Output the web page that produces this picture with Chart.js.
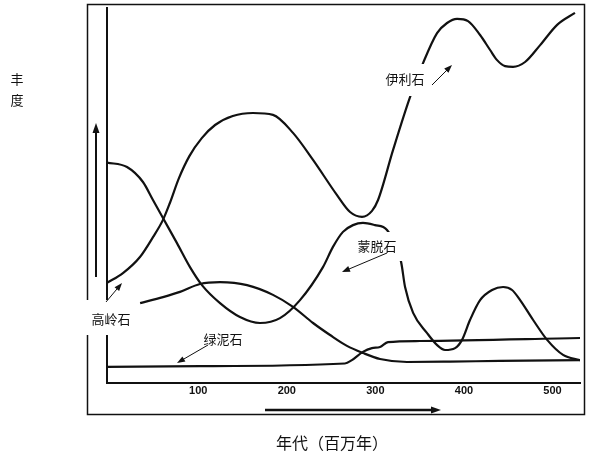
<!DOCTYPE html>
<html>
<head>
<meta charset="utf-8">
<script src="https://cdn.jsdelivr.net/npm/chart.js@4/dist/chart.umd.min.js"></script>
<style>
  html, body { margin: 0; background: #fff; }
  canvas { display: block; }
</style>
</head>
<body>
<canvas id="grafico" width="595" height="459"></canvas>
<script>
// eje de edades (millones de años)
const edadTicks = [100, 200, 300, 400, 500];

// 伊利石 - curva superior
const ilitaEdad = [-3, 15, 34.2, 48.9, 60.2, 68, 78, 90, 104, 119, 139, 161.8, 184.4, 207, 229.6, 256.7, 271.4, 284.9, 296.2, 303, 319.9, 339.2, 353.8, 369.6, 380.9, 392.2, 404.6, 418.2, 429.5, 437.4, 446.4, 455.4, 469, 486, 505.2, 525.3];
const ilitaAbund = [26.7, 29.3, 33.6, 38.9, 43.5, 48, 54.5, 60.5, 65.3, 68.8, 71.2, 72, 71.5, 66.7, 59.5, 50.1, 45.6, 44.3, 45.9, 48.8, 62.1, 76.3, 85.3, 93.3, 96, 97.1, 96.5, 92.8, 88.8, 86.1, 84.5, 84.3, 85.6, 90.1, 95.5, 98.7];

// 蒙脱石
const montEdad = [-3, 19.6, 37.6, 48.9, 60.2, 76, 90.7, 104.2, 124.6, 147.1, 169.7, 192.3, 214.9, 240.8, 252.1, 263.4, 274.7, 286, 299.5, 313.1, 329, 333.5, 342.6, 358.4, 369.7, 378.6, 390, 397.8, 406.8, 418.2, 431.7, 444.2, 454.3, 463.4, 478.1, 493.9, 511.9, 531];
const montAbund = [58.8, 57.6, 53.6, 48.8, 44, 37.3, 30.9, 26.1, 21.3, 17.6, 16, 17.3, 22.1, 30.9, 36.3, 40.3, 42.1, 42.7, 42.1, 40.8, 32.3, 25.6, 18.7, 13.3, 10.1, 8.8, 9.3, 11.5, 16.8, 22.1, 24.8, 25.6, 24.8, 22.1, 16.8, 11.5, 7.5, 6.1];

// 高岭石 - joroba baja
const caolEdad = [34.4, 60.2, 79.4, 101.9, 124.6, 155.1, 184.4, 207, 229.6, 248.8, 267.9, 286, 305.2, 335.7, 384.3, 440.7, 531];
const caolAbund = [21.3, 22.9, 24.3, 26.4, 26.9, 26.1, 23.5, 20.3, 16, 12.8, 9.9, 8, 6.4, 5.6, 5.7, 5.9, 6.1];

// 绿泥石
const cloritaEdad = [-3, 101.9, 265.6, 273.5, 285.9, 296.1, 305.2, 314.2, 350.3, 531];
const cloritaAbund = [4.3, 4.5, 5.2, 6.1, 8.3, 9.3, 9.6, 10.9, 11.2, 12];

function puntos(xs, ys) {
  return xs.map((x, i) => ({ x: x, y: ys[i] }));
}

function flecha(ctx, x1, y1, x2, y2, largo, ancho, grosor) {
  const ang = Math.atan2(y2 - y1, x2 - x1);
  ctx.lineWidth = grosor;
  ctx.beginPath();
  ctx.moveTo(x1, y1);
  ctx.lineTo(x2 - Math.cos(ang) * largo * 0.6, y2 - Math.sin(ang) * largo * 0.6);
  ctx.stroke();
  ctx.beginPath();
  ctx.moveTo(x2, y2);
  ctx.lineTo(x2 - Math.cos(ang) * largo + Math.sin(ang) * ancho / 2, y2 - Math.sin(ang) * largo - Math.cos(ang) * ancho / 2);
  ctx.lineTo(x2 - Math.cos(ang) * largo - Math.sin(ang) * ancho / 2, y2 - Math.sin(ang) * largo + Math.cos(ang) * ancho / 2);
  ctx.closePath();
  ctx.fill();
}

// etiquetas con fondo blanco que tapan las curvas
const etiquetas = [
  { texto: "伊利石", cx: 405, cy: 79, caja: [380, 64, 50, 32], de: [432, 85], a: [452, 65] },
  { texto: "蒙脱石", cx: 377, cy: 246, caja: [352, 232, 52, 29], de: [387, 253], a: [342, 272] },
  { texto: "高岭石", cx: 111, cy: 319, caja: [84, 300, 52, 35], de: [106, 302], a: [122, 283] },
  { texto: "绿泥石", cx: 223, cy: 339, caja: [201, 332, 45, 15], de: [208, 345], a: [177, 363] }
];

const decor = {
  id: "decor",
  beforeDraw(chart) {
    const ctx = chart.ctx;
    ctx.save();
    ctx.fillStyle = "#fff";
    ctx.fillRect(0, 0, chart.width, chart.height);
    ctx.restore();
  },
  beforeDatasetsDraw(chart) {
    const ctx = chart.ctx;
    ctx.save();
    ctx.strokeStyle = "#111";
    ctx.fillStyle = "#111";
    ctx.lineWidth = 1.5;
    ctx.strokeRect(87.5, 4.5, 497, 410);
    flecha(ctx, 96, 277, 96, 123, 10, 7, 2);
    flecha(ctx, 265, 410, 441, 410, 10, 7, 2.5);
    ctx.restore();
  },
  afterDatasetsDraw(chart) {
    const ctx = chart.ctx;
    ctx.save();
    ctx.font = '13px "Noto Sans CJK SC"';
    ctx.textAlign = "center";
    ctx.textBaseline = "middle";
    etiquetas.forEach(e => {
      ctx.fillStyle = "#fff";
      ctx.fillRect(e.caja[0], e.caja[1], e.caja[2], e.caja[3]);
    });
    ctx.strokeStyle = "#111";
    etiquetas.forEach(e => {
      ctx.fillStyle = "#111";
      ctx.fillText(e.texto, e.cx, e.cy);
      flecha(ctx, e.de[0], e.de[1], e.a[0], e.a[1], 8, 6, 1);
    });
    ctx.fillText("丰", 17, 79);
    ctx.fillText("度", 17, 100);
    ctx.font = '16px "Noto Sans CJK SC"';
    ctx.fillText("年代（百万年）", 332, 443);
    ctx.restore();
  }
};

const ctx = document.getElementById("grafico").getContext("2d");
new Chart(ctx, {
  type: "line",
  data: {
    datasets: [
      { label: "伊利石", data: puntos(ilitaEdad, ilitaAbund) },
      { label: "蒙脱石", data: puntos(montEdad, montAbund) },
      { label: "高岭石", data: puntos(caolEdad, caolAbund) },
      { label: "绿泥石", data: puntos(cloritaEdad, cloritaAbund) }
    ]
  },
  options: {
    responsive: false,
    animation: false,
    devicePixelRatio: 1,
    layout: { padding: { left: 107, right: 15, top: 8, bottom: 0 } },
    plugins: { legend: { display: false }, tooltip: { enabled: false } },
    elements: {
      point: { radius: 0 },
      line: { borderWidth: 2.2, borderColor: "#111", fill: false, cubicInterpolationMode: "monotone" }
    },
    scales: {
      x: {
        type: "linear",
        min: -3,
        max: 531,
        grid: { display: false, drawTicks: false },
        border: { color: "#111", width: 2 },
        afterBuildTicks: s => { s.ticks = edadTicks.map(v => ({ value: v })); },
        afterFit: s => { s.height = 76; },
        ticks: { color: "#111", padding: 1, font: { family: "Liberation Sans", size: 11, weight: "bold" } }
      },
      y: {
        min: 0,
        max: 100,
        grid: { display: false, drawTicks: false },
        border: { color: "#111", width: 2 },
        ticks: { display: false },
        afterFit: s => { s.width = 0; }
      }
    }
  },
  plugins: [decor]
});
</script>
</body>
</html>
